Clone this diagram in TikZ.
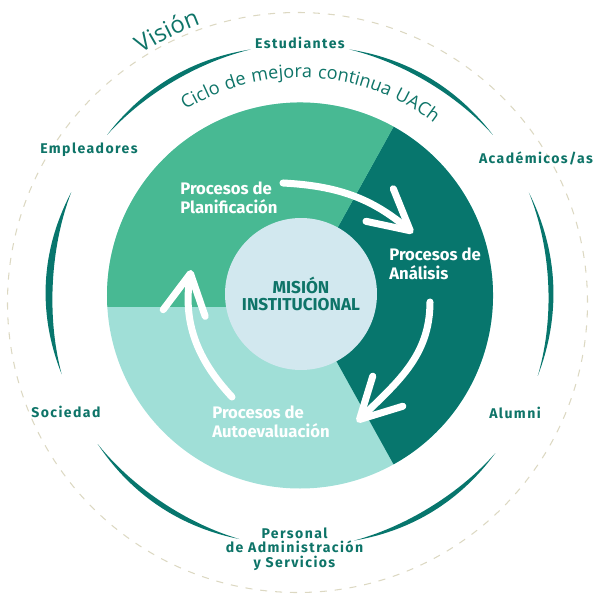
\documentclass[tikz,border=0pt]{standalone}
\usepackage{fontspec}
\setmainfont{Fira Sans}
\newfontfamily\etiqfont{Fira Sans}[LetterSpace=10]
\newfontfamily\ciclofont{Open Sans}[LetterSpace=5]
\newfontfamily\visionfont{Open Sans}[LetterSpace=22]
\usepackage{tikz}
\usetikzlibrary{positioning, arrows.meta, decorations.text, calc}

\definecolor{verdePlan}{HTML}{48B993}
\definecolor{verdeAnal}{HTML}{07766D}
\definecolor{verdeAuto}{HTML}{A0DFD7}
\definecolor{azulMision}{HTML}{D2E8EF}
\definecolor{verdeTexto}{HTML}{0E7468}
\definecolor{crema}{HTML}{DCD8C2}

\begin{document}
\begin{tikzpicture}[
    proceso/.style={text=white, font=\bfseries\fontsize{9.5}{10.8}\selectfont, align=left, anchor=north west, inner sep=0pt},
    actor/.style={text=verdeTexto, font=\etiqfont\bfseries\fontsize{8}{8.3}\selectfont, align=center, inner sep=1pt},
    mision/.style={circle, fill=azulMision, minimum size=3.04cm, text=verdeTexto, align=center, font=\bfseries\fontsize{9.8}{10}\selectfont},
    flecha/.style={white, line width=4pt, line cap=round, -{Straight Barb[length=8mm, width=8.5mm, round]}},
    arco/.style={fill=verdeAnal}
]
    \useasboundingbox (-6,-6) rectangle (6,6);
    \coordinate (C) at (0,0.09);

    % Vision
    \draw[crema, line width=0.6pt, dash pattern=on 4pt off 4.5pt] (-0.05,-0.05) circle[radius=5.8];
    \path[decorate, decoration={text along path, text color=verdeTexto, text align=center,
        text={|\visionfont\fontsize{13.5}{15}\selectfont|Visión}}]
        ($(C)+(156.7:5.78)$) arc[start angle=156.7, end angle=76.7, radius=5.78];

    % Arcos de actores
    \foreach \a/\b/\w in {140.2/101.4/0.045, 78.6/39.8/0.045, 155.7/198.3/0.07,
        24.2/-18.7/0.05, 216.3/256/0.05, 282.4/321.1/0.05}
        \fill[arco, shift={(C)}] plot[domain=\a:\b, samples=50] (\x:{5.02+\w*sin(180*(\x-\a)/(\b-\a))})
            -- plot[domain=\b:\a, samples=50] (\x:{5.02-\w*sin(180*(\x-\a)/(\b-\a))}) -- cycle;

    % Ciclo
    \path[decorate, decoration={text along path, text color=verdeTexto, text align=center,
        text={|\ciclofont\fontsize{10.3}{12}\selectfont|Ciclo de mejora continua UACh}}]
        ($(C)+(166.9:4.36)$) arc[start angle=166.9, end angle=6.9, radius=4.36];

    % Sectores
    \fill[verdeAuto] (C) circle[radius=3.86];
    \fill[verdeAnal] (C) -- ++(-61:3.86) arc[start angle=-61, end angle=61, radius=3.86] -- cycle;
    \fill[verdePlan] (C) -- ++(61:3.86) arc[start angle=61, end angle=183.4, radius=3.86] -- (-1.2,-0.14) -- cycle;

    \node[mision] (mision) at (0.02,0.12) {MISIÓN\\INSTITUCIONAL};

    \node[proceso] (plan) at (-2.4,2.38) {Procesos de\\Planificación};
    \node[proceso] (anal) at (1.78,1.06) {Procesos de\\Análisis};
    \node[proceso] (auto) at (-1.76,-2.1) {Procesos de\\Autoevaluación};

    % Flechas
    \coordinate (f1a) at (-0.34,2.34);
    \coordinate (f1b) at (2.26,1.34);
    \coordinate (f2a) at (2.6,-0.04);
    \coordinate (f2b) at (1.14,-2.44);
    \coordinate (f3a) at (-1.36,-1.94);
    \coordinate (f3b) at (-2.18,0.6);
    \draw[flecha] (f1a) to[out=-3, in=140] (f1b);
    \draw[flecha] (f2a) to[out=-90, in=45] (f2b);
    \draw[flecha] (f3a) to[out=133, in=-99] (f3b);

    % Actores
    \node[actor] (estudiantes) at (0,5.14) {Estudiantes};
    \node[actor] (empleadores) at (-4.22,3.0) {Empleadores};
    \node[actor] (academicos) at (4.72,2.84) {Académicos/as};
    \node[actor] (sociedad) at (-4.68,-2.24) {Sociedad};
    \node[actor] (alumni) at (4.3,-2.26) {Alumni};
    \node[actor] (personal) at (-0.11,-4.98) {Personal\\de Administración\\y Servicios};
\end{tikzpicture}
\end{document}
